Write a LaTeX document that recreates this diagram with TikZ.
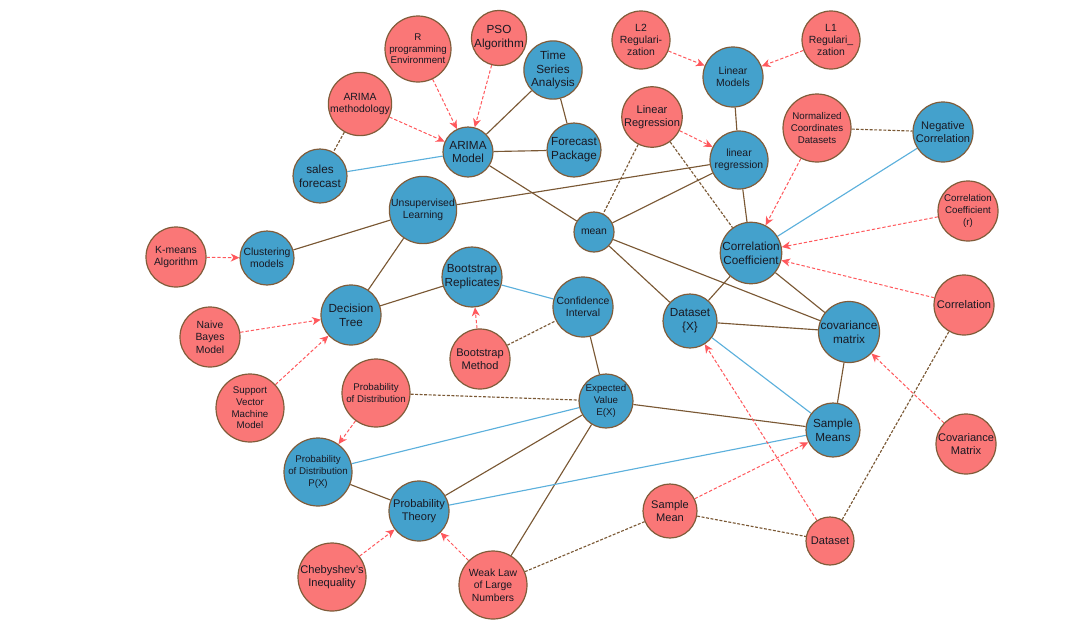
\documentclass[tikz,border=0pt]{standalone}
\usepackage{fontspec}
\setmainfont{Liberation Sans}
\usetikzlibrary{arrows.meta,backgrounds}
\definecolor{nred}{RGB}{250,119,119}
\definecolor{nblue}{RGB}{68,161,204}
\definecolor{nborder}{RGB}{128,92,58}
\definecolor{ebrown}{RGB}{122,88,52}
\definecolor{eblue}{RGB}{92,176,220}
\definecolor{ered}{RGB}{255,88,92}
\definecolor{ntext}{RGB}{25,25,35}
\tikzset{
  nd/.style={circle,draw=nborder,line width=0.9pt,inner sep=0pt,align=center,text=ntext},
  rn/.style={nd,fill=nred},
  bn/.style={nd,fill=nblue},
  rad/.style={minimum size={#1*1.5pt}},
  f75/.style={font=\fontsize{7.3}{8.7}\selectfont},
  f8/.style={font=\fontsize{7.8}{9.3}\selectfont},
  f85/.style={font=\fontsize{8.3}{9.8}\selectfont},
  f9/.style={font=\fontsize{8.8}{10.4}\selectfont},
  bline/.style={draw=ebrown,line width=0.85pt},
  cline/.style={draw=eblue,line width=0.85pt},
  dline/.style={draw=ebrown,line width=0.85pt,dash pattern=on 2.2pt off 1.2pt},
  rarr/.style={draw=ered,line width=0.75pt,dash pattern=on 2.5pt off 1.5pt,
    -{Stealth[length=6.5pt,width=6pt,inset=2pt]}}
}
\begin{document}
\begin{tikzpicture}[x=0.75pt,y=-0.75pt]
\useasboundingbox (0,0) rectangle (1080,636);
% nodes
\node[rn,rad=33,f75] (Rprog) at (418,49) {R\\programming\\Environment};
\node[rn,rad=27,f9] (PSO) at (499,38) {PSO\\Algorithm};
\node[bn,rad=27,f9] (TSA) at (553,70) {Time\\Series\\Analysis};
\node[rn,rad=30,f8] (ARm) at (360,104) {ARIMA\\methodology};
\node[bn,rad=25,f9] (ARIMA) at (468,152) {ARIMA\\Model};
\node[bn,rad=27,f9] (FP) at (574,150) {Forecast\\Package};
\node[bn,rad=27,f9] (SF) at (320,176) {sales\\forecast};
\node[rn,rad=29,f8] (L2) at (641,40) {L2\\Regulari-\\zation};
\node[rn,rad=29,f8] (L1) at (831,40) {L1\\Regulari\_\\zation};
\node[bn,rad=30,f8] (LM) at (733,77) {Linear\\Models};
\node[rn,rad=30,f85] (LRr) at (652,117) {Linear\\Regression};
\node[bn,rad=29,f8] (LRb) at (739,160) {linear\\regression};
\node[rn,rad=34,f75] (NCD) at (817,128) {Normalized\\Coordinates\\Datasets};
\node[bn,rad=30,f85] (NC) at (943,132) {Negative\\Correlation};
\node[rn,rad=30,f75] (CCr) at (968,211) {Correlation\\Coefficient\\(r)};
\node[bn,rad=33,f8] (UL) at (423,210) {Unsupervised\\Learning};
\node[rn,rad=30,f8] (KM) at (176,257) {K-means\\Algorithm};
\node[bn,rad=27,f8] (CM) at (267,258) {Clustering\\models};
\node[bn,rad=30,f9] (DT) at (351,315) {Decision\\Tree};
\node[bn,rad=29,f9] (BR) at (472,277) {Bootstrap\\Replicates};
\node[rn,rad=30,f8] (NB) at (210,337) {Naive\\Bayes\\Model};
\node[rn,rad=30,f85] (BM) at (480,359) {Bootstrap\\Method};
\node[rn,rad=34,f75] (PDr) at (376,393) {Probability\\of Distribution};
\node[rn,rad=34,f75] (SVM) at (250,408) {Support\\Vector\\Machine\\Model};
\node[bn,rad=20,f8] (mean) at (594,232) {mean};
\node[bn,rad=30,f9] (CC) at (751,253) {Correlation\\Coefficient};
\node[bn,rad=30,f8] (CI) at (583,307) {Confidence\\Interval};
\node[bn,rad=27,f9] (DX) at (690,321) {Dataset\\\{X\}};
\node[bn,rad=30,f9] (CovM) at (849,332) {covariance\\matrix};
\node[rn,rad=30,f85] (Corr) at (964,305) {Correlation};
\node[bn,rad=27,f75] (EV) at (606,401) {Expected\\Value\\E(X)};
\node[bn,rad=27,f9] (SMs) at (833,430) {Sample\\Means};
\node[rn,rad=30,f85] (CovMr) at (966,444) {Covariance\\Matrix};
\node[bn,rad=34,f75] (PX) at (318,472) {Probability\\of Distribution\\P(X)};
\node[bn,rad=30,f85] (PT) at (419,511) {Probability\\Theory};
\node[rn,rad=34,f85] (Cheb) at (332,577) {Chebyshev's\\Inequality};
\node[rn,rad=34,f8] (WL) at (493,585) {Weak Law\\of Large\\Numbers};
\node[rn,rad=27,f85] (SMr) at (670,511) {Sample\\Mean};
\node[rn,rad=24,f85] (DSr) at (830,541) {Dataset};
% edges
\begin{pgfonlayer}{background}
% solid brown
\draw[bline] (ARIMA) -- (TSA);
\draw[bline] (ARIMA) -- (FP);
\draw[bline] (TSA) -- (FP);
\draw[bline] (ARIMA) -- (mean);
\draw[bline] (UL) -- (LRb);
\draw[bline] (UL) -- (CM);
\draw[bline] (UL) -- (DT);
\draw[bline] (DT) -- (BR);
\draw[bline] (mean) -- (LRb);
\draw[bline] (mean) -- (DX);
\draw[bline] (mean) -- (CovM);
\draw[bline] (LM) -- (LRb);
\draw[bline] (LRb) -- (CC);
\draw[bline] (CC) -- (DX);
\draw[bline] (CC) -- (CovM);
\draw[bline] (DX) -- (CovM);
\draw[bline] (CovM) -- (SMs);
\draw[bline] (CI) -- (EV);
\draw[bline] (EV) -- (SMs);
\draw[bline] (EV) -- (PT);
\draw[bline] (EV) -- (WL);
\draw[bline] (PX) -- (PT);
% blue
\draw[cline] (SF) -- (ARIMA);
\draw[cline] (BR) -- (CI);
\draw[cline] (NC) -- (CC);
\draw[cline] (DX) -- (SMs);
\draw[cline] (EV) -- (PX);
\draw[cline] (PT) -- (SMs);
% dashed brown
\draw[dline] (ARm) -- (SF);
\draw[dline] (LRr) -- (mean);
\draw[dline] (LRr) -- (CC);
\draw[dline] (NCD) -- (NC);
\draw[dline] (BM) -- (CI);
\draw[dline] (PDr) -- (EV);
\draw[dline] (WL) -- (SMr);
\draw[dline] (SMr) -- (DSr);
\draw[dline] (DSr) -- (Corr);
% red arrows
\draw[rarr] (Rprog) -- (ARIMA);
\draw[rarr] (PSO) -- (ARIMA);
\draw[rarr] (ARm) -- (ARIMA);
\draw[rarr] (L2) -- (LM);
\draw[rarr] (L1) -- (LM);
\draw[rarr] (LRr) -- (LRb);
\draw[rarr] (NCD) -- (CC);
\draw[rarr] (CCr) -- (CC);
\draw[rarr] (Corr) -- (CC);
\draw[rarr] (KM) -- (CM);
\draw[rarr] (NB) -- (DT);
\draw[rarr] (SVM) -- (DT);
\draw[rarr] (BM) -- (BR);
\draw[rarr] (PDr) -- (PX);
\draw[rarr] (Cheb) -- (PT);
\draw[rarr] (WL) -- (PT);
\draw[rarr] (SMr) -- (SMs);
\draw[rarr] (DSr) -- (DX);
\draw[rarr] (CovMr) -- (CovM);
\end{pgfonlayer}
\end{tikzpicture}
\end{document}
